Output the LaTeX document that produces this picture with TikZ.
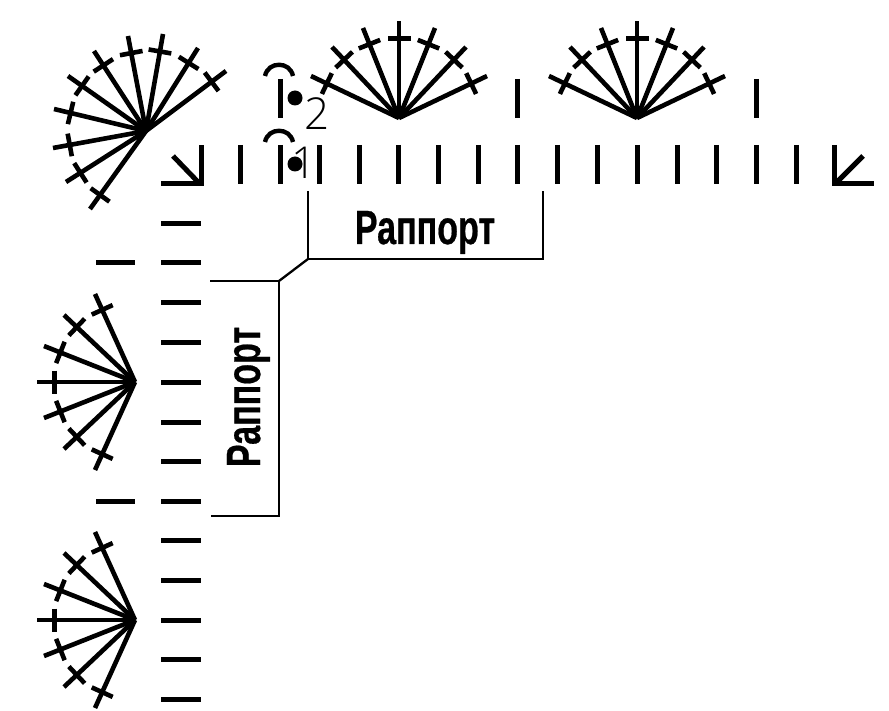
\documentclass[tikz,border=0pt]{standalone}
\usepackage{fontspec}
\setmainfont{Liberation Sans}[BoldFeatures={FakeBold=0.6}]
\newfontfamily\numfont{Open Sans Light}
\newcommand{\fanray}[4]{% cx cy dx dy
  \pgfmathsetmacro{\fr}{veclen(#3,#4)}
  \pgfmathsetmacro{\fbx}{0.82*(#3)}
  \pgfmathsetmacro{\fby}{0.82*(#4)}
  \pgfmathsetmacro{\fpx}{-11.5*(#4)/\fr}
  \pgfmathsetmacro{\fpy}{11.5*(#3)/\fr}
  \draw[thread] (#1,#2) -- ++(#3,#4);
  \draw[thread] (#1+\fbx+\fpx,#2+\fby+\fpy) -- (#1+\fbx-\fpx,#2+\fby-\fpy);
}
\tikzset{
  thread/.style={line width=4.6pt,line cap=butt,black},
  tick/.style={line width=5pt,black},
  bracket/.style={line width=2.3pt,black,line join=miter},
  rapport/.style={font=\fontsize{48}{48}\selectfont\bfseries,inner sep=0pt},
  numeral/.style={font=\fontsize{44}{44}\selectfont\numfont,inner sep=0pt}
}
\begin{document}
\begin{tikzpicture}[x=1pt,y=-1pt]
\useasboundingbox (0,0) rectangle (889,711);
\fill[white] (0,0) rectangle (889,711);
% top row ticks
\foreach \x in {240,280,319,359,398,438,478,517,557,597,637,677,716,756,796}
  \draw[tick] (\x,145) -- (\x,184);
% raised ticks
\foreach \x in {280,517,756}
  \draw[tick] (\x,79) -- (\x,118);
% left column ticks
\foreach \y in {224,263,303,343,382,422,461,501,540,580,620,659,699}
  \draw[tick] (161,\y) -- (201,\y);
\foreach \y in {263,501}
  \draw[tick] (96,\y) -- (135,\y);
% corners
\draw[tick] (161,184) -- (201,184) -- (201,145);
\draw[tick] (173,156) -- (200,184);
\draw[tick] (834,145) -- (834,184) -- (874,184);
\draw[tick] (835,184) -- (863,156);
% fans
\foreach \cx in {399,637}
  \foreach \dx/\dy in {-88/-42,-67/-71,-36/-90,0/-97,36/-90,67/-71,88/-42}
    {\fanray{\cx}{118}{\dx}{\dy}}
\foreach \cy in {382,620}
  \foreach \dx/\dy in {-40/-88,-71/-67,-91/-36,-98/0,-91/36,-71/67,-40/88}
    {\fanray{135}{\cy}{\dx}{\dy}}
\foreach \dx/\dy in {80/-60,52/-83,17/-97,-18/-95,-52/-80,-78/-55,-92/-22,-93/17,-80/51,-56/78}
  {\fanray{146}{131}{\dx}{\dy}}
% arcs and dots
\foreach \y in {0,66}
{
  \draw[line width=4.4pt] (265,\y+76) .. controls (268,\y+61) and (290,\y+61) .. (293,\y+76);
}
\fill (295,98) circle (7.5);
\fill (295,164) circle (7.5);
\node[numeral] (two) at (317,114) {2};
\node[numeral] (one) at (304,163) {1};
% brackets
\coordinate (a1) at (308,191);
\coordinate (a2) at (308,259);
\coordinate (a3) at (543,259);
\coordinate (a4) at (543,191);
\coordinate (b1) at (210,281);
\coordinate (b2) at (279,281);
\coordinate (b3) at (279,516);
\coordinate (b4) at (211,516);
\draw[bracket] (a1) -- (a2) -- (a3) -- (a4);
\draw[bracket] (b1) -- (b2) -- (b3) -- (b4);
\draw[bracket] (b2) -- (a2);
\node[rapport,anchor=base] (r1) at (425,244) {\scalebox{0.71}[1]{Раппорт}};
\node[rapport,rotate=90,anchor=base] (r2) at (260,397) {\scalebox{0.71}[1]{Раппорт}};
\end{tikzpicture}
\end{document}
